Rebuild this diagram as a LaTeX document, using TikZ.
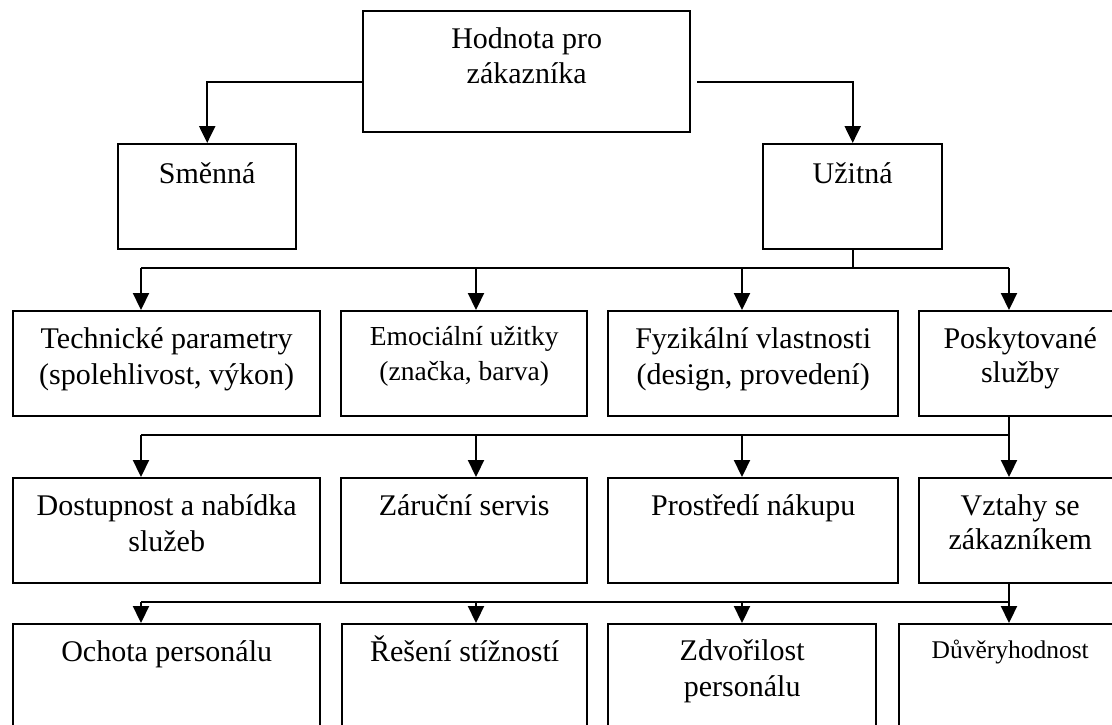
\documentclass[tikz,border=0pt]{standalone}
\usepackage{fontspec}
\setmainfont{Liberation Serif}
\usetikzlibrary{arrows.meta,calc}

\tikzset{
  box/.style={draw, line width=2.4pt, anchor=north west, inner sep=0pt, minimum height=105pt},
  lbl/.style={anchor=base, yshift=-38pt, align=center, inner sep=0pt,
    font=\fontsize{30}{36}\selectfont},
  twolines/.style={yshift=-36pt},
  arr/.style={line width=2.2pt, -{Triangle[length=17pt,width=16pt]}},
  bus/.style={line width=2.2pt}
}

\begin{document}
\begin{tikzpicture}[x=1pt,y=-1pt]
  \useasboundingbox (0,0) rectangle (1112,724);
  \clip (0,0) rectangle (1112,724);

  % columns of the arrows and levels of the bus lines
  \coordinate (c1) at (141,0);
  \coordinate (c2) at (476,0);
  \coordinate (c3) at (742,0);
  \coordinate (c4) at (1009,0);
  \coordinate (bus1) at (0,268);
  \coordinate (bus2) at (0,435);
  \coordinate (bus3) at (0,602);

  \node[box, minimum width=327pt, minimum height=121pt,
    label={[lbl, twolines, font=\fontsize{30}{35}\selectfont, yshift=1pt]north:Hodnota pro\\zákazníka}] (top) at (362,10) {};
  \node[box, minimum width=178pt, label={[lbl, yshift=-2pt]north:Směnná}] (smenna) at (117,143) {};
  \node[box, minimum width=179pt, label={[lbl, yshift=-2pt]north:Užitná}] (uzitna) at (762,143) {};

  \node[box, minimum width=307pt,
    label={[lbl, twolines]north:Technické parametry\\(spolehlivost, výkon)}] (tech) at (12,310) {};
  \node[box, minimum width=246pt,
    label={[lbl, font=\fontsize{27.5}{35}\selectfont, yshift=-32pt]north:Emociální užitky\\(značka, barva)}] (emo) at (340,310) {};
  \node[box, minimum width=290pt,
    label={[lbl, twolines]north:Fyzikální vlastnosti\\(design, provedení)}] (fyz) at (607,310) {};
  \node[box, minimum width=202pt,
    label={[lbl, font=\fontsize{30}{34}\selectfont, yshift=-34pt]north:Poskytované\\služby}] (posk) at (918,310) {};

  \node[box, minimum width=307pt,
    label={[lbl, twolines]north:Dostupnost a nabídka\\služeb}] (dost) at (12,477) {};
  \node[box, minimum width=246pt, label={[lbl]north:Záruční servis}] (zaruc) at (340,477) {};
  \node[box, minimum width=290pt, label={[lbl]north:Prostředí nákupu}] (prostr) at (607,477) {};
  \node[box, minimum width=202pt,
    label={[lbl, font=\fontsize{30}{34}\selectfont, yshift=-34pt]north:Vztahy se\\zákazníkem}] (vztahy) at (918,477) {};

  \node[box, minimum width=307pt, minimum height=130pt,
    label={[lbl]north:Ochota personálu}] (ochota) at (12,623) {};
  \node[box, minimum width=245pt, minimum height=130pt,
    label={[lbl]north:Řešení stížností}] (reseni) at (341,623) {};
  \node[box, minimum width=268pt, minimum height=130pt,
    label={[lbl, twolines, yshift=1pt]north:Zdvořilost\\personálu}] (zdvor) at (607,623) {};
  \node[box, minimum width=222pt, minimum height=130pt,
    label={[lbl, yshift=3pt, font=\fontsize{25.5}{32}\selectfont]north:Důvěryhodnost}] (duver) at (898,623) {};

  % top level
  \draw[arr] ([yshift=-10.5pt]top.west) -| (smenna.north);
  \draw[arr] ([xshift=6pt,yshift=-10.5pt]top.east) -| (uzitna.north);

  % first row
  \draw[bus] (uzitna.south) -- (uzitna.south |- bus1);
  \draw[bus] (c1 |- bus1) -- (c4 |- bus1);
  \foreach \b/\c in {tech/c1, emo/c2, fyz/c3, posk/c4}
    \draw[arr] (\c |- bus1) -- (\b.north -| \c);

  % second row
  \draw[bus] (c1 |- bus2) -- (c4 |- bus2);
  \draw[bus] (posk.south -| c4) -- (c4 |- bus2);
  \foreach \b/\c in {dost/c1, zaruc/c2, prostr/c3, vztahy/c4}
    \draw[arr] (\c |- bus2) -- (\b.north -| \c);

  % third row
  \draw[bus] (c1 |- bus3) -- (c4 |- bus3);
  \draw[bus] (vztahy.south -| c4) -- (c4 |- bus3);
  \foreach \b/\c in {ochota/c1, reseni/c2, zdvor/c3, duver/c4}
    \draw[arr] (\c |- bus3) -- (\b.north -| \c);
\end{tikzpicture}
\end{document}
